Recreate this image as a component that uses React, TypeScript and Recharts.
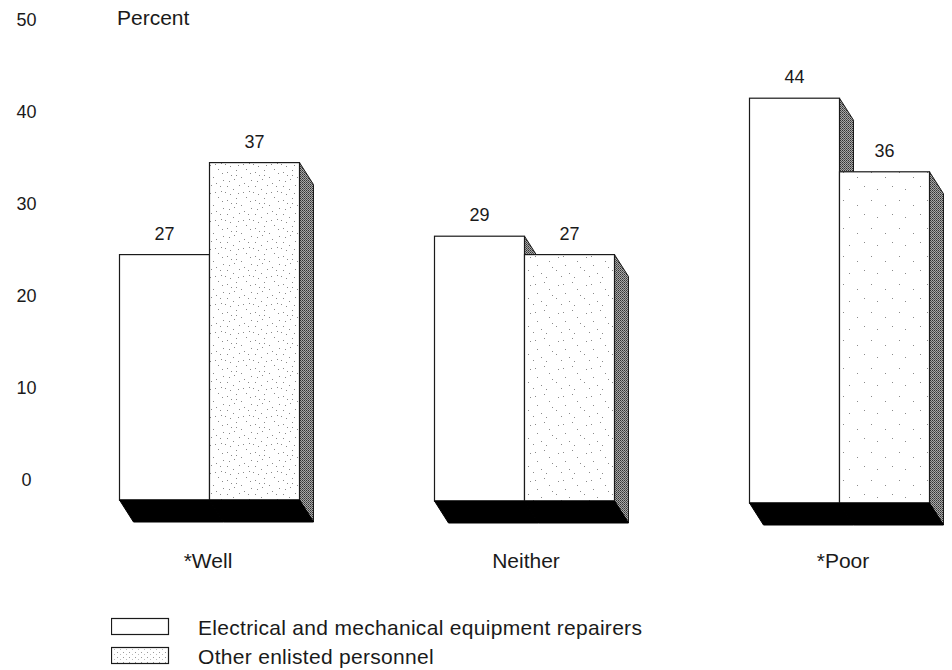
import * as React from 'react';
import { BarChart, Bar, XAxis, YAxis, LabelList, Legend } from 'recharts';

const categories = ['*Well', 'Neither', '*Poor'];
const repairers = [27, 29, 44];
const otherEnlisted = [37, 27, 36];
const percentTicks = [0, 10, 20, 30, 40, 50];
const seriesNames = ['Electrical and mechanical equipment repairers', 'Other enlisted personnel'];

const data = categories.map((category, i) => ({
  category,
  repairers: repairers[i],
  otherEnlisted: otherEnlisted[i],
}));

const FONT = '"Liberation Sans", Arial, sans-serif';
const INK = '#1a1a1a';
const DEPTH_X = 14;
const DEPTH_Y = 22;
// the scanned bars do not share one baseline
const BASE_SHIFT = [-3, -2, 0];
const CATEGORY_SHIFT = [-1, 2, 4];
const STIPPLES = ['stippleDense', 'stippleMid', 'stippleSparse'];

function Bar3D({ x, y, width, height, index, fill }: any) {
  const right = x + width;
  const bottom = y + height + BASE_SHIFT[index];
  const front = fill === 'stipple' ? `url(#${STIPPLES[index]})` : '#fff';
  return (
    <g>
      <polygon
        points={`${right},${y} ${right + DEPTH_X},${y + DEPTH_Y} ${right + DEPTH_X},${bottom + DEPTH_Y} ${right},${bottom}`}
        fill="url(#sideShade)"
        stroke={INK}
        strokeWidth={1}
      />
      <rect x={x} y={y} width={width} height={bottom - y} fill={front} stroke={INK} strokeWidth={1.2} />
      <polygon
        points={`${x},${bottom} ${right},${bottom} ${right + DEPTH_X},${bottom + DEPTH_Y} ${x + DEPTH_X},${bottom + DEPTH_Y}`}
        fill="#000"
        stroke="#000"
        strokeWidth={1}
      />
    </g>
  );
}

function PercentTick({ x, y, payload }: any) {
  return (
    <text x={x - 17} y={y - 23} textAnchor="middle" dominantBaseline="central" fontFamily={FONT} fontSize={18} fill={INK}>
      {payload.value}
    </text>
  );
}

function CategoryTick({ x, payload, index }: any) {
  return (
    <text x={x + CATEGORY_SHIFT[index]} y={568} textAnchor="middle" fontFamily={FONT} fontSize={21} fill={INK}>
      {payload.value}
    </text>
  );
}

function SeriesLegend() {
  return (
    <svg width={640} height={53} style={{ display: 'block' }}>
      {seriesNames.map((name, i) => (
        <g key={name}>
          <rect
            x={0.5}
            y={i * 29 + 1.5}
            width={57}
            height={16}
            fill={i === 0 ? '#fff' : 'url(#stippleLegend)'}
            stroke={INK}
            strokeWidth={1.2}
          />
          <text x={87} y={i * 29 + 18} fontFamily={FONT} fontSize={21} letterSpacing={0.3} fill={INK}>
            {name}
          </text>
        </g>
      ))}
      <defs>
        <pattern id="stippleLegend" width="6" height="5" patternUnits="userSpaceOnUse">
          <rect width="1" height="1" fill="#999" />
          <rect x="3" y="2" width="1" height="1" fill="#bbb" />
        </pattern>
      </defs>
    </svg>
  );
}

function Stipple({ id, dots }: { id: string; dots: number[][] }) {
  return (
    <pattern id={id} width="28" height="28" patternUnits="userSpaceOnUse">
      <rect width="28" height="28" fill="#fff" />
      {dots.map(([dx, dy]) => (
        <rect key={`${dx}-${dy}`} x={dx} y={dy} width="1" height="1" fill="#8a8a8a" />
      ))}
    </pattern>
  );
}

const sparseDots = [[3, 4], [17, 9], [9, 21], [24, 18]];
const midDots = [...sparseDots, [12, 2], [26, 5], [5, 13], [20, 15], [14, 25], [1, 24]];
const denseDots = [...midDots, [7, 7], [22, 1], [10, 11], [15, 17], [25, 23], [3, 18], [19, 24], [27, 12], [12, 7], [6, 26]];

export default function App() {
  return (
    <div style={{ position: 'absolute', left: 0, top: 0, width: 952, height: 670, overflow: 'hidden', background: '#fff' }}>
      <BarChart
        width={1000}
        height={670}
        data={data}
        barSize={90}
        barGap={0}
        margin={{ top: 43, right: 3.5, bottom: 84, left: 0 }}
      >
        <defs>
          <pattern id="sideShade" width="2" height="2" patternUnits="userSpaceOnUse">
            <rect width="2" height="2" fill="#a8a8a8" />
            <rect width="1" height="1" fill="#333" />
            <rect x="1" y="1" width="1" height="1" fill="#555" />
          </pattern>
          <Stipple id="stippleDense" dots={denseDots} />
          <Stipple id="stippleMid" dots={midDots} />
          <Stipple id="stippleSparse" dots={sparseDots} />
        </defs>
        <XAxis dataKey="category" axisLine={false} tickLine={false} tick={<CategoryTick />} interval={0} />
        <YAxis
          width={51.5}
          domain={[0, 50]}
          ticks={percentTicks}
          axisLine={false}
          tickLine={false}
          tick={<PercentTick />}
        />
        <text x={117} y={25} fontFamily={FONT} fontSize={21} fill={INK}>
          Percent
        </text>
        <Legend
          verticalAlign="bottom"
          align="left"
          wrapperStyle={{ left: 111, top: 617, width: 640 }}
          content={<SeriesLegend />}
        />
        <Bar dataKey="repairers" name={seriesNames[0]} fill="plain" isAnimationActive={false} shape={<Bar3D />}>
          <LabelList dataKey="repairers" position="top" offset={15} fontFamily={FONT} fontSize={18} fill={INK} />
        </Bar>
        <Bar dataKey="otherEnlisted" name={seriesNames[1]} fill="stipple" isAnimationActive={false} shape={<Bar3D />}>
          <LabelList dataKey="otherEnlisted" position="top" offset={15} fontFamily={FONT} fontSize={18} fill={INK} />
        </Bar>
      </BarChart>
    </div>
  );
}
